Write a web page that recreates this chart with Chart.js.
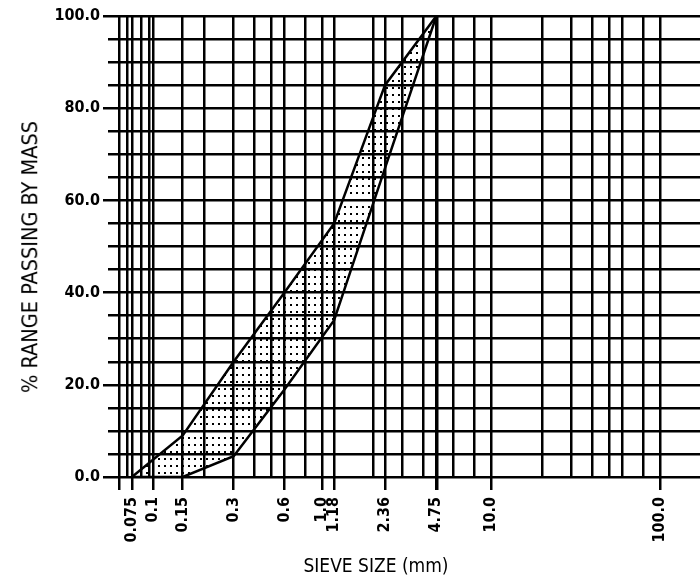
<!DOCTYPE html>
<html>
<head>
<meta charset="utf-8">
<title>Sieve size grading envelope</title>
<script src="https://cdn.jsdelivr.net/npm/chart.js@4.4.1/dist/chart.umd.min.js"></script>
<style>
  html,body{margin:0;padding:0;background:#fff;}
  #wrap{position:relative;width:700px;height:576px;overflow:hidden;}
  #chart{position:absolute;left:0;top:0;}
  .ttl{position:absolute;font-family:"DejaVu Sans Condensed","Liberation Sans Narrow","DejaVu Sans",sans-serif;color:#000;white-space:nowrap;line-height:1;}
  #xTitle{left:376px;top:556px;transform:translateX(-50%);font-size:19px;}
  #yTitle{left:30px;top:257px;transform:translate(-50%,-50%) rotate(-90deg);font-size:21.5px;}
</style>
</head>
<body>
<div id="wrap">
  <canvas id="chart" width="700" height="576"></canvas>
  <div class="ttl" id="yTitle">% RANGE PASSING BY MASS</div>
  <div class="ttl" id="xTitle">SIEVE SIZE (mm)</div>
</div>
<script>
// envelope limits (sieve size mm -> % passing)
const upperSizes   = [0.075, 0.15, 0.3, 0.6, 1.18, 2.36, 4.75];
const upperPassing = [0, 9, 25, 40, 55, 85, 100];
const lowerSizes   = [0.075, 0.15, 0.3, 0.6, 1.18, 2.36, 4.75];
const lowerPassing = [0, 0, 4.5, 19, 34, 67, 100];

// graph paper lines and labelled sieves
const gridSizes   = [0.063, 0.07, 0.075, 0.085, 0.095, 0.1, 0.15, 0.2, 0.3, 0.4, 0.5, 0.6, 0.8, 1.0, 1.18,
                     2, 2.36, 3, 4, 4.75, 6, 8, 10, 20, 30, 40, 50, 60, 80, 100];
const sieveSizes  = [0.075, 0.1, 0.15, 0.3, 0.6, 1.0, 1.18, 2.36, 4.75, 10, 100];
const sieveLabels = ['0.075', '0.1', '0.15', '0.3', '0.6', '1.0', '1.18', '2.36', '4.75', '10.0', '100.0'];
const blankTicks  = [0.063];
const passingLabelStep = 20;

const X_MIN = 0.05418, X_MAX = 172.5;
const INK = '#000';
const FONT = '"DejaVu Sans Condensed", "DejaVu Sans", sans-serif';

(function(){
  const canvas = document.getElementById('chart');
  const ctx = canvas.getContext('2d');

  // stipple for the band between the limits
  const tile = document.createElement('canvas');
  tile.width = 6; tile.height = 7;
  const t = tile.getContext('2d');
  t.fillStyle = INK;
  t.fillRect(2, 3, 2, 2);
  const dots = ctx.createPattern(tile, 'repeat');

  const pts = (xs, ys)=>xs.map((x,i)=>({x, y: ys[i]}));
  const hasMark = (v)=>sieveSizes.includes(v) || blankTicks.includes(v);

  new Chart(ctx, {
    type: 'line',
    data: {
      datasets: [{
        label: 'Upper limit',
        data: pts(upperSizes, upperPassing),
        borderColor: INK, borderWidth: 2.5, pointRadius: 0, tension: 0,
        fill: '+1', backgroundColor: dots
      },{
        label: 'Lower limit',
        data: pts(lowerSizes, lowerPassing),
        borderColor: INK, borderWidth: 2.5, pointRadius: 0, tension: 0,
        fill: false
      }]
    },
    options: {
      responsive: false,
      animation: false,
      devicePixelRatio: 1,
      layout: { padding: { top: 16, right: 0, bottom: 0, left: 0 } },
      plugins: { legend: { display: false }, tooltip: { enabled: false } },
      scales: {
        x: {
          type: 'logarithmic',
          min: X_MIN, max: X_MAX, bounds: 'data',
          afterBuildTicks: (s)=>{ s.ticks = gridSizes.map(v=>({value: v})); },
          afterFit: (s)=>{ s.height = 99; },
          border: { display: false },
          grid: {
            color: INK,
            lineWidth: (c)=> (c.tick && c.tick.value === 4.75) ? 3.5 : 2.5,
            tickLength: 13,
            tickColor: (c)=> (c.tick && hasMark(c.tick.value)) ? INK : 'rgba(0,0,0,0)'
          },
          ticks: {
            autoSkip: false, maxRotation: 90, minRotation: 90, padding: 7,
            color: '#000', font: { family: FONT, size: 16, weight: 'bold' },
            callback: (v)=>{ const i = sieveSizes.indexOf(v); return i < 0 ? '' : sieveLabels[i]; }
          }
        },
        y: {
          min: 0, max: 100,
          afterFit: (s)=>{ s.width = 108; },
          border: { display: false },
          grid: {
            color: INK, lineWidth: 2.5, tickLength: 5,
            tickColor: (c)=> (c.tick && c.tick.value % passingLabelStep === 0) ? INK : 'rgba(0,0,0,0)'
          },
          ticks: {
            stepSize: 5, padding: 3, color: '#000', font: { family: FONT, size: 16, weight: 'bold' },
            callback: (v)=> v % passingLabelStep === 0 ? v.toFixed(1) : ''
          }
        }
      }
    }
  });
})();
</script>
</body>
</html>
